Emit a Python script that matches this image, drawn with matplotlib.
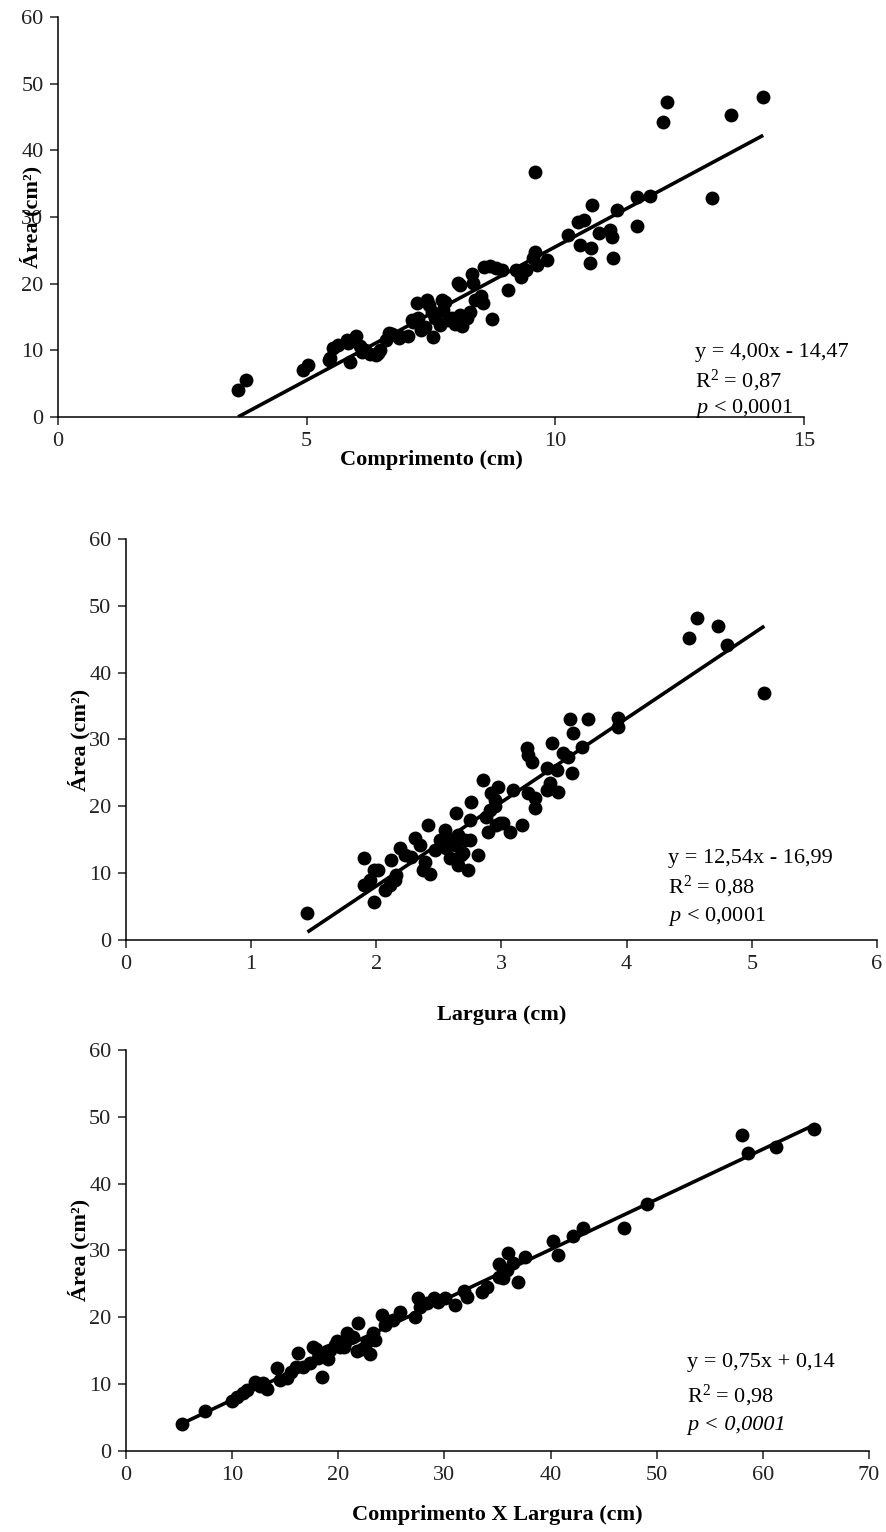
import matplotlib

matplotlib.use("Agg")
import matplotlib.pyplot as plt

plt.rcParams["font.family"] = ["Liberation Serif", "DejaVu Serif"]
plt.rcParams["mathtext.fontset"] = "custom"
plt.rcParams["mathtext.rm"] = "Liberation Serif"
plt.rcParams["mathtext.it"] = "Liberation Serif:italic"

# leaf length (cm) vs leaf area (cm2)
comp_x = [3.62, 3.78, 4.93, 5.03, 5.45, 5.53, 5.62, 5.83, 5.87, 6.00, 6.08, 6.18,
          6.28, 6.40, 6.48, 6.60, 6.72, 6.88, 7.04, 7.14, 7.24, 7.38, 7.45, 7.53,
          7.59, 7.55, 7.69, 7.75, 7.79, 7.85, 7.93, 7.99, 8.09, 8.13, 8.23, 8.29,
          8.09, 8.35, 8.33, 8.39, 8.51, 8.55, 8.73, 8.57, 8.69, 8.81, 8.93, 9.05,
          9.20, 9.30, 9.42, 9.56, 9.60, 9.64, 9.84, 9.60, 10.26, 10.45, 10.57, 10.50,
          10.87, 10.74, 10.70, 10.72, 11.10, 11.14, 11.17, 11.25, 11.65, 11.65, 11.90,
          12.17, 12.25, 13.16, 13.54, 14.18, 5.47, 5.81, 6.11, 6.44, 6.65, 6.85,
          7.12, 7.22, 7.29, 7.42, 7.73, 8.05]
comp_area = [4.0, 5.5, 7.0, 7.8, 8.5, 10.3, 10.8, 11.1, 8.3, 12.1, 10.6, 10.0,
             9.5, 9.3, 10.0, 11.6, 12.4, 12.1, 12.1, 14.2, 14.8, 13.5, 16.8, 15.7,
             14.8, 12.0, 13.8, 16.0, 17.3, 14.5, 14.8, 13.9, 15.3, 13.6, 14.8, 15.7,
             19.8, 20.1, 21.4, 17.5, 18.1, 17.1, 14.7, 22.5, 22.6, 22.3, 22.0, 19.0,
             22.0, 21.0, 22.0, 23.8, 24.7, 22.8, 23.5, 36.7, 27.3, 29.3, 29.5, 25.8,
             27.6, 31.8, 23.1, 25.3, 28.0, 27.0, 23.8, 31.0, 28.6, 33.0, 33.2,
             44.2, 47.2, 32.8, 45.3, 48.0, 8.8, 11.5, 9.8, 9.6, 12.6, 11.8,
             14.5, 17.1, 13.0, 17.5, 17.5, 20.1]

# leaf width (cm) vs leaf area (cm2)
larg_x = [1.45, 1.90, 1.90, 1.95, 1.98, 2.01, 1.98, 2.07, 2.11, 2.15, 2.16, 2.12,
          2.19, 2.23, 2.28, 2.31, 2.35, 2.39, 2.37, 2.43, 2.41, 2.47, 2.51, 2.55,
          2.56, 2.59, 2.61, 2.63, 2.65, 2.64, 2.68, 2.65, 2.69, 2.71, 2.75, 2.76,
          2.73, 2.81, 2.85, 2.89, 2.91, 2.95, 2.96, 2.92, 2.97, 2.95, 2.88, 2.99,
          3.07, 3.16, 3.09, 3.21, 3.27, 3.27, 3.20, 3.21, 3.24, 3.36, 3.40, 3.44,
          3.39, 3.45, 3.36, 3.49, 3.53, 3.56, 3.55, 3.57, 3.64, 3.69, 3.93, 3.93,
          4.50, 4.56, 4.73, 4.80, 5.10, 2.75, 3.01]
larg_area = [4.0, 12.3, 8.2, 9.0, 10.5, 10.5, 5.7, 7.5, 8.2, 9.0, 9.7, 12.0,
             13.8, 12.7, 12.4, 15.3, 14.2, 11.7, 10.5, 9.9, 17.2, 13.5, 15.0, 16.5,
             13.8, 12.2, 15.0, 14.2, 15.7, 19.0, 12.7, 11.2, 13.0, 15.0, 18.0, 20.7,
             10.5, 12.7, 24.0, 16.2, 19.5, 21.0, 17.2, 22.0, 22.9, 20.0, 18.4, 17.5,
             16.2, 17.2, 22.5, 22.0, 19.8, 21.3, 28.7, 27.7, 26.6, 25.7, 29.5, 25.4,
             23.5, 22.2, 22.5, 28.0, 27.4, 25.0, 33.0, 31.0, 28.9, 33.0, 33.2, 31.9,
             45.2, 48.2, 47.0, 44.2, 37.0, 15.0, 17.5]

# length x width (cm) vs leaf area (cm2)
cxl_x = [5.3, 7.4, 10.0, 10.5, 11.0, 11.4, 12.2, 12.6, 13.3, 14.2, 14.5, 15.2,
         15.5, 16.2, 16.7, 17.3, 17.6, 18.1, 18.5, 18.8, 19.2, 18.9, 19.7, 20.2,
         19.9, 20.6, 20.5, 20.8, 21.1, 21.8, 21.9, 22.7, 23.0, 23.5, 23.3, 24.1,
         24.4, 25.2, 25.8, 27.2, 27.5, 27.7, 28.4, 29.0, 29.4, 30.1, 31.0, 31.8,
         32.1, 33.5, 34.0, 35.1, 35.1, 36.0, 35.9, 35.5, 36.9, 37.6, 36.5, 40.2,
         40.7, 42.1, 43.1, 46.9, 49.1, 58.0, 58.6, 61.2, 64.8, 16.0, 17.9, 19.0,
         21.4, 22.2, 12.9]
cxl_area = [4.0, 6.0, 7.5, 8.1, 8.6, 9.1, 10.3, 9.7, 9.3, 12.4, 10.6, 10.9,
            11.8, 14.6, 12.6, 13.2, 15.6, 13.9, 11.0, 14.4, 15.1, 15.0, 15.9, 15.6,
            16.4, 16.3, 15.5, 17.6, 16.9, 15.0, 19.1, 16.3, 14.5, 16.6, 17.7, 20.4,
            18.8, 19.6, 20.8, 20.0, 22.9, 21.6, 22.2, 22.9, 22.3, 22.9, 21.9, 24.0,
            23.1, 23.8, 24.6, 28.0, 26.0, 29.6, 27.1, 25.9, 25.3, 29.0, 28.1, 31.4,
            29.3, 32.2, 33.3, 33.4, 37.0, 47.3, 44.6, 45.4, 48.2, 12.5, 15.3, 13.8,
            17.0, 15.2, 10.1]

# fitted equations: slope, intercept, R2
fits = [(4.00, -14.47, "0,87"), (12.54, -16.99, "0,88"), (0.75, 0.14, "0,98")]
eq_labels = ["y = 4,00x - 14,47", "y = 12,54x - 16,99", "y = 0,75x + 0,14"]

FS = 16

fig = plt.figure(figsize=(8.86, 15.32), dpi=100)

panels = [
    dict(rect=[0.0655, 0.7278, 0.8419, 0.2611], xlim=(0, 15), xticks=[0, 5, 10, 15],
         xlabel="Comprimento (cm)", xs=comp_x, ys=comp_area,
         ylab_x=-0.021, xlab_y=-0.082, tx=0.854, ty=(0.15, 0.075, 0.01), p_all_italic=False),
    dict(rect=[0.1422, 0.3864, 0.8476, 0.2618], xlim=(0, 6), xticks=range(0, 7),
         xlabel="Largura (cm)", xs=larg_x, ys=larg_area,
         ylab_x=-0.047, xlab_y=-0.162, tx=0.722, ty=(0.192, 0.117, 0.047), p_all_italic=False),
    dict(rect=[0.1422, 0.0529, 0.8386, 0.2618], xlim=(0, 70), xticks=range(0, 80, 10),
         xlabel="Comprimento X Largura (cm)", xs=cxl_x, ys=cxl_area,
         ylab_x=-0.0475, xlab_y=-0.134, tx=0.755, ty=(0.209, 0.122, 0.052), p_all_italic=True),
]

for p, (slope, icpt, r2), eq in zip(panels, fits, eq_labels):
    ax = fig.add_axes(p["rect"])
    ax.scatter(p["xs"], p["ys"], s=100, color="black", zorder=3, linewidths=0)
    x0, x1 = min(p["xs"]), max(p["xs"])
    ax.plot([x0, x1], [slope * x0 + icpt, slope * x1 + icpt], color="black", lw=2.6,
            solid_capstyle="butt", zorder=2)

    ax.set_xlim(*p["xlim"])
    ax.set_ylim(0, 60)
    ax.set_xticks(list(p["xticks"]))
    ax.set_yticks(range(0, 70, 10))
    for side in ("top", "right"):
        ax.spines[side].set_visible(False)
    for side in ("left", "bottom"):
        ax.spines[side].set_linewidth(1.1)
    ax.tick_params(direction="out", length=5.5, width=1.1, pad=5, labelsize=FS,
                   colors="#222222")
    ax.patch.set_alpha(0)

    ax.set_xlabel(p["xlabel"], fontsize=FS, fontweight="bold")
    ax.xaxis.set_label_coords(0.5, p["xlab_y"])
    ax.set_ylabel("Área (cm²)", fontsize=FS, fontweight="bold")
    ax.yaxis.set_label_coords(p["ylab_x"], 0.5)

    ty1, ty2, ty3 = p["ty"]
    ax.text(p["tx"], ty1, eq, transform=ax.transAxes, fontsize=FS, va="baseline")
    ax.text(p["tx"], ty2, "R$^2$ = " + r2, transform=ax.transAxes, fontsize=FS, va="baseline")
    if p["p_all_italic"]:
        ax.text(p["tx"], ty3, "p < 0,0001", transform=ax.transAxes, fontsize=FS,
                va="baseline", style="italic")
    else:
        ax.text(p["tx"], ty3, "$p$ < 0,0001", transform=ax.transAxes, fontsize=FS,
                va="baseline")

fig.savefig("out.png", dpi=100, facecolor="white")
